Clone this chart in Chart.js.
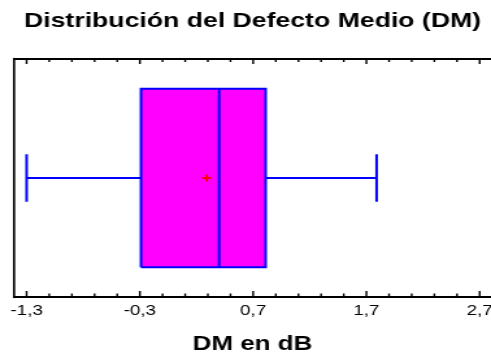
<!DOCTYPE html>
<html>
<head>
<meta charset="utf-8">
<script src="https://cdn.jsdelivr.net/npm/chart.js@4"></script>
<style>
  html, body { margin: 0; padding: 0; background: #fff; overflow: hidden; }
  #myChart { display: block; }
</style>
</head>
<body>
<!-- the reference is stretched sideways, so draw narrow and widen with css -->
<canvas id="myChart" width="378" height="358" style="width:491px;height:358px"></canvas>
<script>
const xTickValues = [-1.3, -0.3, 0.7, 1.7, 2.7];
const xTickLabels = ['-1,3', '-0,3', '0,7', '1,7', '2,7'];
const minorStep = 0.2;

// min, q1, median, q3, max
const dmStats = [-1.3, -0.29, 0.40, 0.81, 1.79];
const dmMean = [0.29];

const font = "'Liberation Sans', Arial, sans-serif";
const blue = '#0000ff';
const boxLow = 0.125, boxHigh = 0.875, capLow = 0.4, capHigh = 0.6, mid = 0.5;

const [lo, q1, med, q3, hi] = dmStats;

const seg = (pts, extra) => Object.assign({
  data: pts,
  borderColor: blue,
  borderWidth: 2,
  pointRadius: 0,
  fill: false
}, extra);

const framePlugin = {
  id: 'frame',
  afterDraw(chart) {
    const { ctx, chartArea: { left, right, top, bottom }, scales: { x } } = chart;
    ctx.save();
    ctx.strokeStyle = '#000';
    ctx.lineWidth = 2.2;
    ctx.beginPath();
    ctx.moveTo(right, top); ctx.lineTo(left, top);
    ctx.moveTo(left, bottom); ctx.lineTo(right, bottom);
    ctx.stroke();
    ctx.lineWidth = 1.7;
    ctx.beginPath();
    ctx.moveTo(left, top - 1.1); ctx.lineTo(left, bottom + 1.1);
    ctx.stroke();

    // inward tick marks, top and bottom
    ctx.lineWidth = 1.4;
    ctx.beginPath();
    for (let k = 0; ; k++) {
      const v = xTickValues[0] + k * minorStep;
      if (v > x.max + 1e-9) break;
      const major = xTickValues.some(t => Math.abs(t - v) < 1e-6);
      const px = x.getPixelForValue(v);
      ctx.moveTo(px, top); ctx.lineTo(px, top + (major ? 5 : 3));
      ctx.moveTo(px, bottom); ctx.lineTo(px, bottom - (major ? 6 : 3.5));
    }
    ctx.stroke();
    ctx.restore();
  }
};

new Chart(document.getElementById('myChart'), {
  type: 'line',
  data: {
    datasets: [
      {
        label: 'Media',
        data: dmMean.map(v => ({ x: v, y: mid })),
        showLine: false,
        pointStyle: 'cross',
        pointRadius: 3.5,
        borderColor: '#ff0000',
        borderWidth: 2
      },
      seg([{ x: med, y: boxLow }, { x: med, y: boxHigh }]),
      seg([{ x: lo, y: mid }, { x: q1, y: mid }]),
      seg([{ x: q3, y: mid }, { x: hi, y: mid }]),
      seg([{ x: lo, y: capLow }, { x: lo, y: capHigh }]),
      seg([{ x: hi, y: capLow }, { x: hi, y: capHigh }]),
      seg([
        { x: q1, y: boxLow }, { x: q3, y: boxLow }, { x: q3, y: boxHigh },
        { x: q1, y: boxHigh }, { x: q1, y: boxLow }
      ], { fill: 'shape', backgroundColor: '#ff00ff', borderJoinStyle: 'miter' })
    ]
  },
  options: {
    responsive: false,
    animation: false,
    events: [],
    layout: { autoPadding: false, padding: { left: 10.8, right: 0, top: 0, bottom: 0 } },
    plugins: {
      legend: { display: false },
      tooltip: { enabled: false },
      title: {
        display: true,
        text: 'Distribución del Defecto Medio (DM)',
        color: '#000',
        font: { family: font, size: 20.5, weight: 'bold' },
        padding: { top: 9, bottom: 25.4 }
      }
    },
    scales: {
      x: {
        type: 'linear',
        min: -1.411,
        max: 2.8,
        afterBuildTicks: scale => { scale.ticks = xTickValues.map(v => ({ value: v })); },
        // let the last label run to the canvas edge, as in the original
        afterFit: scale => { scale.paddingLeft = 0; scale.paddingRight = 0; },
        grid: { display: false, drawTicks: false },
        border: { display: false },
        ticks: {
          callback: (value, i) => xTickLabels[i],
          color: '#000',
          font: { family: font, size: 14.5 },
          padding: 5,
          maxRotation: 0,
          autoSkip: false
        },
        title: {
          display: true,
          text: 'DM en dB',
          color: '#000',
          font: { family: font, size: 20, weight: 'bold' },
          padding: { top: 7.6, bottom: 2 }
        }
      },
      y: {
        type: 'linear',
        min: 0,
        max: 1,
        display: false
      }
    }
  },
  plugins: [framePlugin]
});
</script>
</body>
</html>
